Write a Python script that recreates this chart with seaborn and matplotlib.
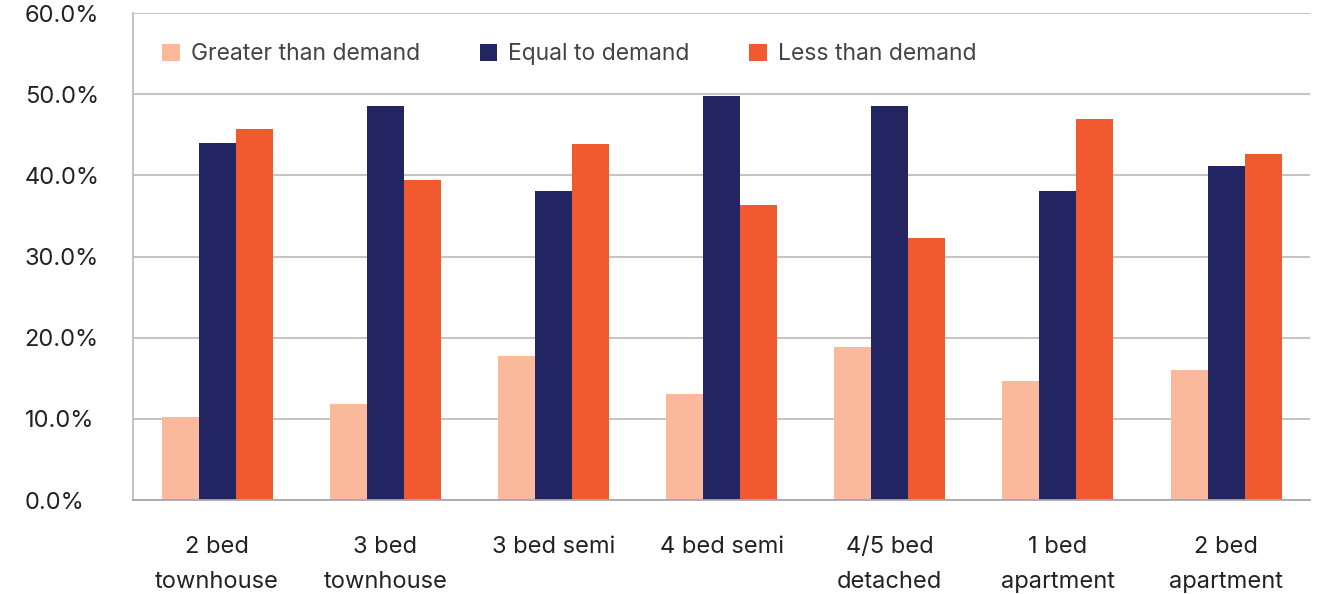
import numpy as np
import pandas as pd
import seaborn as sns
from matplotlib import pyplot as plt
from matplotlib.ticker import PercentFormatter

# Data
categories = ["2 bed\ntownhouse", "3 bed\ntownhouse", "3 bed semi", "4 bed semi",
              "4/5 bed\ndetached", "1 bed\napartment", "2 bed\napartment"]
greater = [10.2, 11.8, 17.7, 13.1, 18.9, 14.7, 16.0]
equal = [44.0, 48.6, 38.1, 49.8, 48.6, 38.1, 41.1]
less = [45.7, 39.4, 43.9, 36.4, 32.3, 46.9, 42.7]
series = ["Greater than demand", "Equal to demand", "Less than demand"]
colors = ["#F9B99A", "#232462", "#F15A2F"]

df = pd.DataFrame({"category": categories * 3,
                   "series": np.repeat(series, len(categories)),
                   "value": greater + equal + less})

sns.set_style("white")
plt.rcParams['font.family'] = ['Inter', 'DejaVu Sans']

fig, ax = plt.subplots(figsize=(13.26, 5.94), dpi=100)
fig.subplots_adjust(left=0.1003, right=0.988, bottom=0.158, top=0.978)

sns.barplot(data=df, x="category", y="value", hue="series", hue_order=series,
            palette=colors, width=0.66, linewidth=0, saturation=1, ax=ax)

ax.set_ylim(0, 60)
ax.set_yticks(np.arange(0, 61, 10))
ax.yaxis.set_major_formatter(PercentFormatter(decimals=1))
ax.yaxis.grid(True, color="#BEBEBE", linewidth=1.3)
ax.set_axisbelow(True)
ax.set_xlabel("")
ax.set_ylabel("")

for s in ["top", "right"]:
    ax.spines[s].set_visible(False)
ax.spines["left"].set_color("#BEBEBE")
ax.spines["left"].set_linewidth(1.3)
ax.spines["bottom"].set_color("#A8A8A8")
ax.spines["bottom"].set_linewidth(1.3)

ax.tick_params(axis="y", length=0, pad=78, labelsize=17, labelcolor="#222222")
for lbl in ax.get_yticklabels():
    lbl.set_horizontalalignment("left")
ax.tick_params(axis="x", length=0, pad=26, labelsize=17, labelcolor="#222222")
for lbl in ax.get_xticklabels():
    lbl.set_linespacing(1.75)

ax.legend(loc="center left", bbox_to_anchor=(0.0153, 0.915), ncol=3, frameon=False,
          fontsize=16.5, handlelength=0.75, handleheight=0.75, handletextpad=0.5,
          columnspacing=2.6, borderpad=0, labelcolor="#444444")

plt.savefig("out.png", dpi=100)
